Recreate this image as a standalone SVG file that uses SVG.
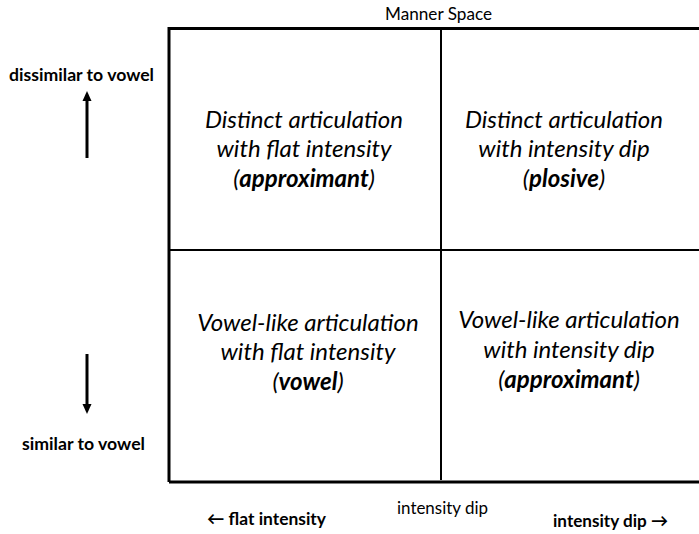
<svg xmlns="http://www.w3.org/2000/svg" width="699" height="534" viewBox="0 0 699 534">
<style>
  text { font-family: Lato, "Open Sans", "Liberation Sans", sans-serif; fill: #000; }
  .q { font-size: 24px; font-style: italic; text-anchor: middle; }
  .b { font-weight: bold; }
  .lab { font-size: 17.5px; font-weight: bold; }
  .reg { font-size: 17.5px; }
  .frame { fill: none; stroke: #000; }
</style>
<rect width="699" height="534" fill="#fff"/>
<g id="frame">
  <path class="frame" d="M169 482 V28.5 H699" stroke-width="3"/>
  <path class="frame" d="M169 482 H699" stroke-width="3"/>
  <path class="frame" d="M169 250 H699" stroke-width="2"/>
  <path class="frame" d="M441 28.5 V480" stroke-width="2"/>
</g>
<text id="title" class="reg" x="385" y="19.5" textLength="107" lengthAdjust="spacingAndGlyphs">Manner Space</text>
<g id="q-tl">
  <text class="q" x="304" y="128">Distinct articulation</text>
  <text class="q" x="304" y="157">with flat intensity</text>
  <text class="q" x="304" y="187">(<tspan class="b">approximant</tspan>)</text>
</g>
<g id="q-tr">
  <text class="q" x="564" y="128">Distinct articulation</text>
  <text class="q" x="564" y="157">with intensity dip</text>
  <text class="q" x="564" y="187">(<tspan class="b">plosive</tspan>)</text>
</g>
<g id="q-bl">
  <text class="q" x="308" y="331">Vowel-like articulation</text>
  <text class="q" x="308" y="360">with flat intensity</text>
  <text class="q" x="308" y="390">(<tspan class="b">vowel</tspan>)</text>
</g>
<g id="q-br">
  <text class="q" x="569" y="328">Vowel-like articulation</text>
  <text class="q" x="569" y="358">with intensity dip</text>
  <text class="q" x="569" y="388">(<tspan class="b">approximant</tspan>)</text>
</g>
<g id="axis-labels">
  <text class="lab" x="9" y="81" textLength="145" lengthAdjust="spacingAndGlyphs">dissimilar to vowel</text>
  <text class="lab" x="22" y="450" textLength="123" lengthAdjust="spacingAndGlyphs">similar to vowel</text>
  <text class="lab" x="207" y="525" textLength="119" lengthAdjust="spacingAndGlyphs">← flat intensity</text>
  <text class="reg" x="397" y="514" textLength="91" lengthAdjust="spacingAndGlyphs">intensity dip</text>
  <text class="lab" x="553" y="527" textLength="115" lengthAdjust="spacingAndGlyphs">intensity dip →</text>
</g>
<g id="connectors">
  <line x1="87" y1="158" x2="87" y2="100" stroke="#000" stroke-width="3"/>
  <polygon points="87,91 82.5,101 91.5,101" fill="#000"/>
  <line x1="87" y1="354" x2="87" y2="406" stroke="#000" stroke-width="3"/>
  <polygon points="87,414 82.5,404 91.5,404" fill="#000"/>
</g>
</svg>
